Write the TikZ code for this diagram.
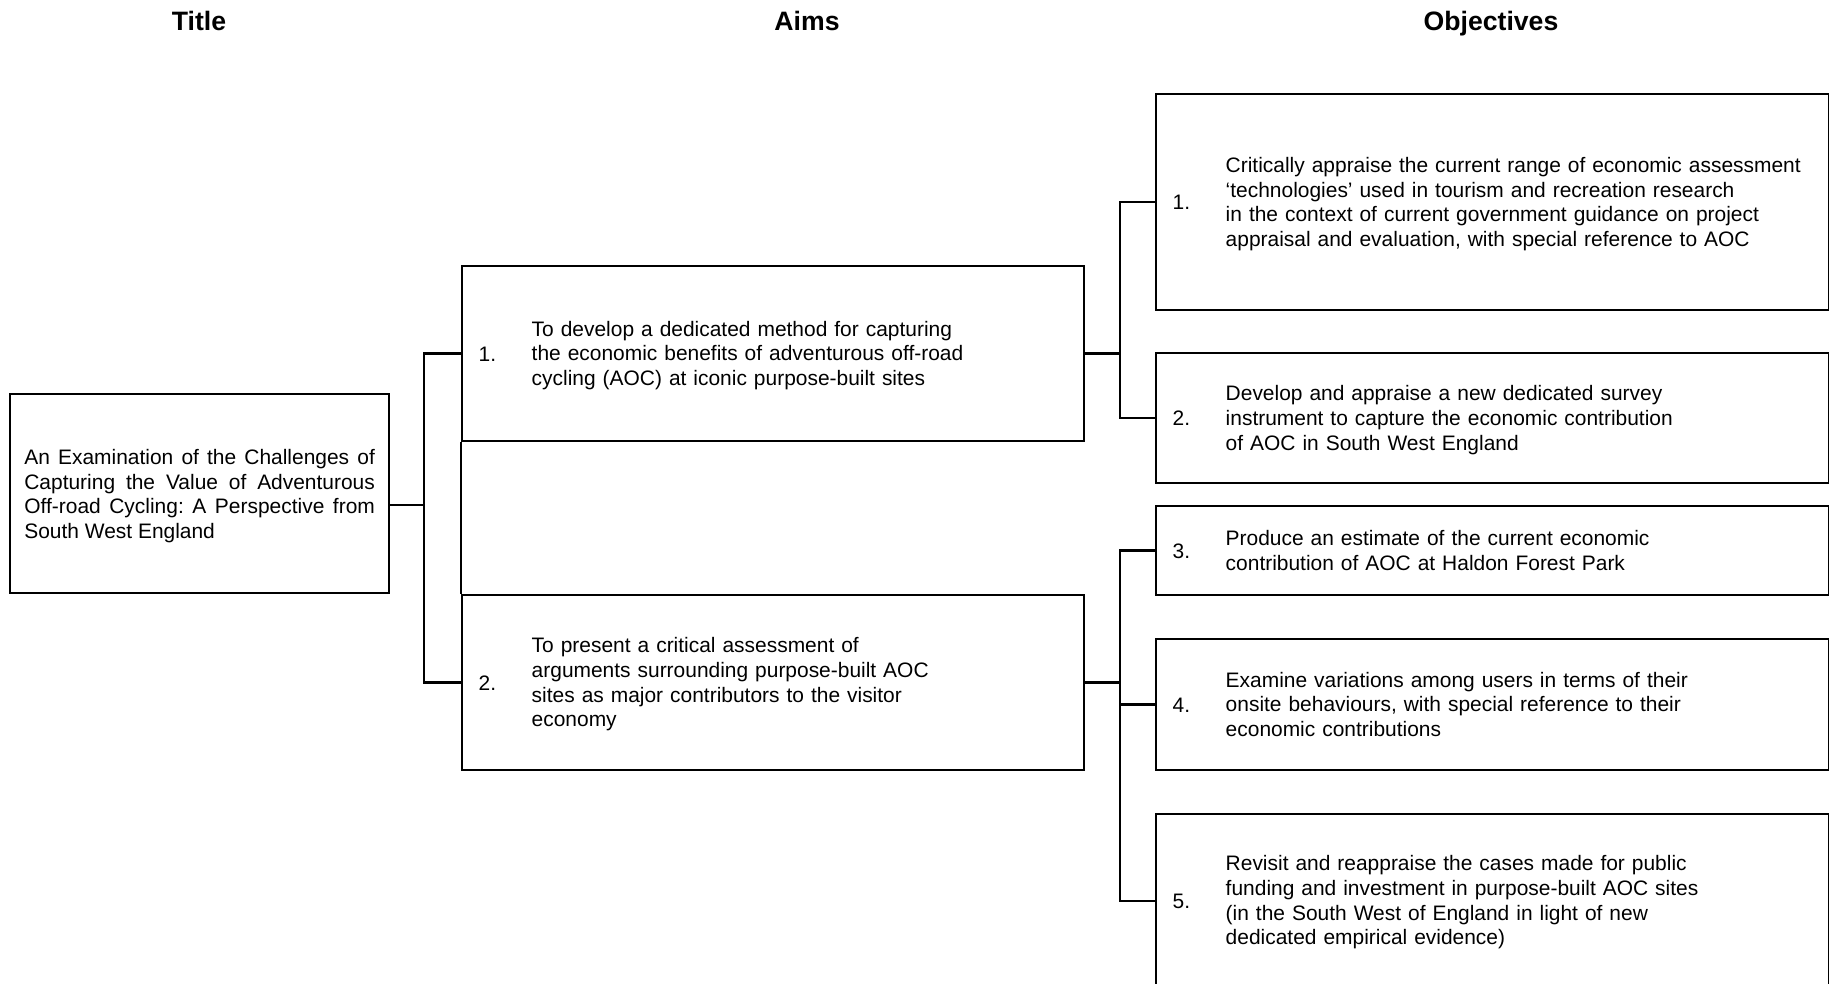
\documentclass[tikz,border=0pt]{standalone}
\usepackage{fontspec}
\setmainfont{Liberation Sans}
\usetikzlibrary{calc}
\frenchspacing

% one pixel of the layout
\newcommand{\pxu}{0.5634pt}
% number column and the lines of one entry
\newcommand{\numtext}[2]{\noindent\raisebox{-1.3pt}[\height][\depth]{\makebox[29.9pt][l]{#1}\begin{tabular}{@{}l@{}}#2\end{tabular}}}
% a justified line of the title
\newcommand{\fullline}[1]{\makebox[\linewidth][s]{#1}}

\begin{document}
\begin{tikzpicture}[x=0.5634pt, y=-0.5634pt, line join=miter,
    box/.style={draw, line width=1.3pt, anchor=north west, inner xsep=9.3pt, inner ysep=0pt,
        font=\fontsize{11.8}{13.9}\selectfont},
    aimbox/.style={box, text width=331.8pt, minimum height=175*\pxu},
    objbox/.style={box, text width=360.6pt},
    head/.style={anchor=base, font=\fontsize{15}{17}\selectfont\bfseries},
    link/.style={line width=1.3pt}]
    \useasboundingbox (0,0) rectangle (1829,984);
    \clip (0,0) rectangle (1829,984);

    % column heads
    \node[head] (hTitle) at (199,31) {Title};
    \node[head] (hAims) at (807,31) {Aims};
    \node[head] (hObj) at (1491,31) {Objectives};

    % title box
    \node[box, inner xsep=8pt, minimum height=199*\pxu] (title) at (9,393)
        {\raisebox{-1.3pt}[\height][\depth]{\parbox{197.5pt}{%
         \fullline{An Examination of the Challenges of}\\
         \fullline{Capturing the Value of Adventurous}\\
         \fullline{Off-road Cycling: A Perspective from}\\
         South West England}}};

    % aims
    \node[aimbox] (aim1) at (461,265) {\numtext{1.}{To develop a dedicated method for capturing\\
        the economic benefits of adventurous off-road\\
        cycling (AOC) at iconic purpose-built sites}};
    \node[aimbox] (aim2) at (461,594) {\numtext{2.}{To present a critical assessment of\\
        arguments surrounding purpose-built AOC\\
        sites as major contributors to the visitor\\
        economy}};

    % objectives
    \node[objbox, minimum height=216*\pxu] (obj1) at (1155,93) {\numtext{1.}{Critically appraise the current range of economic assessment\\
        ‘technologies’ used in tourism and recreation research\\
        in the context of current government guidance on project\\
        appraisal and evaluation, with special reference to AOC}};
    \node[objbox, minimum height=130*\pxu] (obj2) at (1155,352) {\numtext{2.}{Develop and appraise a new dedicated survey\\
        instrument to capture the economic contribution\\
        of AOC in South West England}};
    \node[objbox, minimum height=89*\pxu] (obj3) at (1155,505) {\numtext{3.}{Produce an estimate of the current economic\\
        contribution of AOC at Haldon Forest Park}};
    \node[objbox, minimum height=131*\pxu] (obj4) at (1155,638) {\numtext{4.}{Examine variations among users in terms of their\\
        onsite behaviours, with special reference to their\\
        economic contributions}};
    \node[objbox, minimum height=173*\pxu] (obj5) at (1155,813) {\numtext{5.}{Revisit and reappraise the cases made for public\\
        funding and investment in purpose-built AOC sites\\
        (in the South West of England in light of new\\
        dedicated empirical evidence)}};

    % title to aims
    \coordinate (tj) at (424,505);
    \draw[link] (title.east |- tj) -- (tj);
    \draw[link] (aim1.west) -| (tj) |- (aim2.west);
    \draw[link] (aim1.south west) -- (aim2.north west);

    % aims to objectives
    \coordinate (a1j) at ($(aim1.east)+(34.5,0)$);
    \draw[link] (aim1.east) -- (a1j);
    \draw[link] (obj1.west) -| (a1j) |- (obj2.west);
    \coordinate (a2j) at ($(aim2.east)+(34.5,0)$);
    \draw[link] (aim2.east) -- (a2j);
    \draw[link] (obj3.west) -| (a2j) |- (obj5.west);
    \draw[link] (obj4.west) -- (obj4.west -| a2j);
\end{tikzpicture}
\end{document}
